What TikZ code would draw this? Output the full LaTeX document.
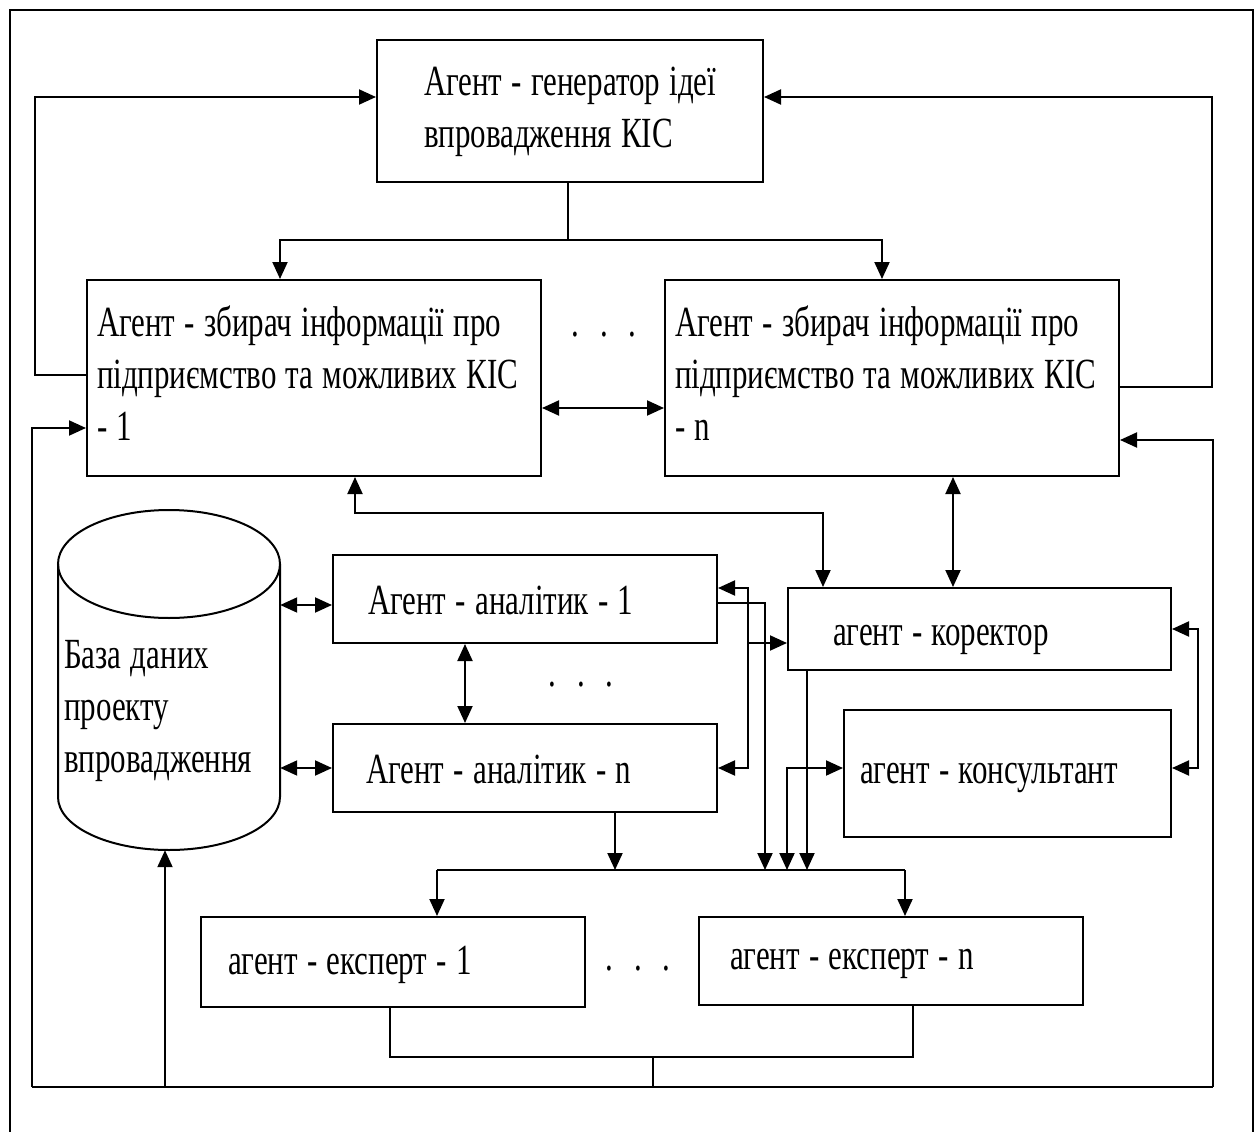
\documentclass[tikz,border=0pt]{standalone}
\usepackage{fontspec}
\setmainfont{Liberation Serif}[FakeStretch=0.72, WordSpace=1.2]
\usetikzlibrary{arrows.meta}
\newcommand{\boxfont}{\fontsize{43pt}{52pt}\selectfont}
\newcommand{\threedots}{.\hspace{21pt}.\hspace{21pt}.}
% left-aligned block of lines inside a box of fixed width
\newcommand{\linesin}[2]{\makebox[#1][l]{\begin{tabular}{@{}l@{}}#2\end{tabular}}}
\tikzset{
  agent/.style={draw, line width=2pt, inner sep=0pt, font=\boxfont},
  worker/.style={agent, text depth=0pt},
  link/.style={line width=2pt},
  arr/.style={link, -{Triangle[length=17pt,width=15pt]}},
  arrtwo/.style={link, {Triangle[length=17pt,width=15pt]}-{Triangle[length=17pt,width=15pt]}},
  dots/.style={font=\boxfont, inner sep=0pt, anchor=base}
}
\begin{document}
\begin{tikzpicture}[x=1pt, y=-1pt]
\useasboundingbox (0,0) rectangle (1259,1132);
% outer frame, open at the bottom
\draw[line width=2.8pt] (10,1132) -- (10,10) -- (1253,10) -- (1253,1132);

% upper agents
\node[agent, inner xsep=47pt, minimum height=142pt] (gen) at (570,111)
  {\linesin{292pt}{Агент - генератор ідеї\\впровадження КІС}};
\node[agent, inner xsep=10pt, minimum height=196pt] (col1) at (314,378)
  {\linesin{434pt}{Агент - збирач інформації про\\підприємство та можливих КІС\\- 1}};
\node[agent, inner xsep=10pt, minimum height=196pt] (coln) at (892,378)
  {\linesin{434pt}{Агент - збирач інформації про\\підприємство та можливих КІС\\- n}};

% lower agents (text height = twice the baseline offset below the centre)
\node[worker, inner xsep=35pt, text height=30pt, minimum height=88pt] (an1) at (525,599)
  {\makebox[314pt][l]{Агент - аналітик - 1}};
\node[worker, inner xsep=33pt, text height=30pt, minimum height=88pt] (ann) at (525,768)
  {\makebox[318pt][l]{Агент - аналітик - n}};
\node[worker, inner xsep=45pt, text height=32pt, minimum height=82pt] (cor) at (979.5,629)
  {\makebox[293pt][l]{агент - коректор}};
\node[worker, inner xsep=16pt, text height=19pt, minimum height=127pt] (cons) at (1007.5,773.5)
  {\makebox[295pt][l]{агент - консультант}};
\node[worker, inner xsep=27pt, text height=24pt, minimum height=90pt] (ex1) at (393,962)
  {\makebox[330pt][l]{агент - експерт - 1}};
\node[worker, inner xsep=31pt, text height=16pt, minimum height=88pt] (exn) at (891,961)
  {\makebox[322pt][l]{агент - експерт - n}};

% database cylinder
\node[minimum width=222pt, minimum height=340pt, inner sep=0pt] (db) at (169,680) {};
\draw[line width=2pt] (58,564) -- (58,797)
  arc[start angle=180, end angle=0, x radius=111, y radius=53] -- (280,564);
\draw[line width=2pt] (169,564) ellipse[x radius=111, y radius=54];
\node[anchor=west, inner sep=0pt, font=\boxfont] (dbtext) at (64,710)
  {\linesin{200pt}{База даних\\проекту\\впровадження}};

% dots between repeated agents
\node[dots] (d1) at (604,336) {\threedots};
\node[dots] (d2) at (581,686) {\threedots};
\node[dots] (d3) at (638,970) {\threedots};

% generator to collectors
\coordinate (gsplit) at (568,240);
\draw[link] ([xshift=-2pt]gen.south) -- (gsplit);
\draw[arr] (gsplit) -| ([xshift=-34pt]col1.north);
\draw[arr] (gsplit) -| ([xshift=-10pt]coln.north);

% collectors to generator
\draw[arr] ([yshift=3pt]col1.west) -- (35,375) -- (35,97) -- ([yshift=14pt]gen.west);
\draw[arr] ([yshift=-9pt]coln.east) -- (1212,387) -- (1212,97) -- ([yshift=14pt]gen.east);
\draw[arrtwo] ([yshift=-30pt]col1.east) -- ([yshift=-30pt]coln.west);

% collectors and corrector
\draw[arrtwo] ([xshift=41pt]col1.south) -- (355,513) -- (823,513) -- ([xshift=-156.5pt]cor.north);
\draw[arrtwo] ([xshift=61pt]coln.south) -- ([xshift=-26.5pt]cor.north);

% database and analysts
\coordinate (p1) at ([yshift=-6pt]an1.west);
\draw[arrtwo] (db.east |- p1) -- (p1);
\draw[arrtwo] (db.east |- ann.west) -- (ann.west);
\draw[arrtwo] ([xshift=-60pt]an1.south) -- ([xshift=-60pt]ann.north);

% analysts, corrector, consultant
\draw[arrtwo] ([yshift=11pt]an1.east) -- (748,588) -- (748,768) -- (ann.east);
\draw[arr] (748,643) -- ([yshift=-14pt]cor.west);
\draw[arrtwo] (cor.east) -- (1198,629) -- (1198,768) -- ([yshift=5.5pt]cons.east);

% bus towards the experts
\coordinate (busL) at (437,870);
\coordinate (busR) at (905,870);
\coordinate (b0) at (615,870);
\coordinate (b1) at (765,870);
\coordinate (b2) at (787,870);
\coordinate (b3) at (807,870);
\draw[link] (busL) -- (busR);
\draw[arr] (busL) -- ([xshift=44pt]ex1.north);
\draw[arr] (busR) -- ([xshift=14pt]exn.north);
\draw[arr] ([xshift=90pt]ann.south) -- (b0);
\draw[arr] ([yshift=-4pt]an1.east) -- (765,603) -- (b1);
\draw[arrtwo] (b2) -- (787,768) -- ([yshift=5.5pt]cons.west);
\draw[arr] ([xshift=-172.5pt]cor.south) -- (b3);

% experts back to collectors and database
\coordinate (fb) at (653,1087);
\draw[link] ([xshift=-3pt]ex1.south) -- (390,1057) -- (913,1057) -- ([xshift=22pt]exn.south);
\draw[link] (653,1057) -- (fb);
\draw[link] (32,1087) -- (1213,1087);
\draw[arr] (32,1087) -- (32,428) -- ([yshift=-50pt]col1.west);
\draw[arr] (1213,1087) -- (1213,440) -- ([yshift=-62pt]coln.east);
\draw[arr] (165,1087) -- ([xshift=-4pt]db.south);
\end{tikzpicture}
\end{document}
